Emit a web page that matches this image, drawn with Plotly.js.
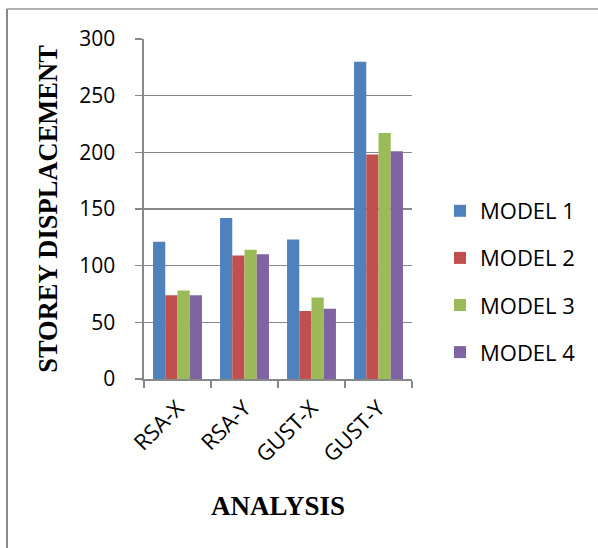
<!DOCTYPE html>
<html>
<head>
<meta charset="utf-8">
<script src="https://cdn.plot.ly/plotly-3.0.1.min.js"></script>
<style>html,body{margin:0;padding:0;background:#fff;}#chart{width:598px;height:548px;}</style>
</head>
<body>
<div id="chart"></div>
<script>
const categories = ["RSA-X", "RSA-Y", "GUST-X", "GUST-Y"];
const seriesNames = ["MODEL 1", "MODEL 2", "MODEL 3", "MODEL 4"];
const model1 = [121, 142, 123, 280];
const model2 = [74, 109, 60, 198];
const model3 = [78, 114, 72, 217];
const model4 = [74, 110, 62, 201];
const yTicks = [0, 50, 100, 150, 200, 250, 300];
const colors = ["#4F81BD", "#C0504D", "#9BBB59", "#8064A2"];

const seriesValues = [model1, model2, model3, model4];
const traces = seriesValues.map((vals, i) => ({
  type: "bar",
  name: seriesNames[i],
  x: categories,
  y: vals,
  marker: {color: colors[i], line: {width: 0}},
  legendgroup: "g" + i
}));

const L = 144, R = 412, T = 39, B = 379, W = 598, H = 548;
const pw = R - L, ph = B - T;
const px = v => (v - L) / pw;
const py = v => 1 - (v - T) / ph;

const layout = {
  width: W, height: H,
  margin: {l: L, r: W - R, t: T, b: H - B, pad: 0},
  paper_bgcolor: "#ffffff",
  plot_bgcolor: "#ffffff",
  barmode: "group",
  bargap: 0.27,
  bargroupgap: 0,
  font: {family: "Open Sans, sans-serif", color: "#000000", size: 20},
  showlegend: true,
  legend: {
    x: px(440), y: py(190), xanchor: "left", yanchor: "top",
    font: {family: "Open Sans, sans-serif", size: 22, color: "#000"},
    tracegroupgap: 15.5,
    bgcolor: "rgba(0,0,0,0)"
  },
  xaxis: {
    type: "category",
    showline: true, linecolor: "#888888", linewidth: 1.6,
    ticks: "outside", ticklen: 7, tickcolor: "#888888", tickwidth: 1.6,
    tickson: "boundaries",
    tickangle: -45,
    ticklabelstandoff: 6,
    tickfont: {family: "Open Sans, sans-serif", size: 22, color: "#000"},
    showgrid: false, zeroline: false,
    automargin: false,
    title: {text: "ANALYSIS", font: {family: "Liberation Serif, Times New Roman, serif", size: 27, color: "#000", weight: "bold"}, standoff: 29}
  },
  yaxis: {
    range: [0, 300],
    tickvals: yTicks,
    showline: true, linecolor: "#888888", linewidth: 1.6,
    ticks: "outside", ticklen: 7, tickcolor: "#888888", tickwidth: 1.6,
    ticklabelstandoff: 16,
    tickfont: {family: "Open Sans, sans-serif", size: 21, color: "#000"},
    showgrid: true, gridcolor: "#888888", gridwidth: 1.6,
    zeroline: false,
    automargin: false,
    title: {text: "STOREY DISPLACEMENT", font: {family: "Liberation Serif, Times New Roman, serif", size: 26.5, color: "#000", weight: "bold"}, standoff: 14}
  },
  shapes: [
    {type: "line", xref: "paper", yref: "paper", x0: px(7), x1: px(598), y0: py(9), y1: py(9), line: {color: "#9a9a9a", width: 1.5}},
    {type: "line", xref: "paper", yref: "paper", x0: px(7), x1: px(7), y0: py(9), y1: py(548), line: {color: "#8a8a8a", width: 2}}
  ]
};

Plotly.newPlot("chart", traces, layout, {displayModeBar: false, staticPlot: true});
</script>
</body>
</html>
